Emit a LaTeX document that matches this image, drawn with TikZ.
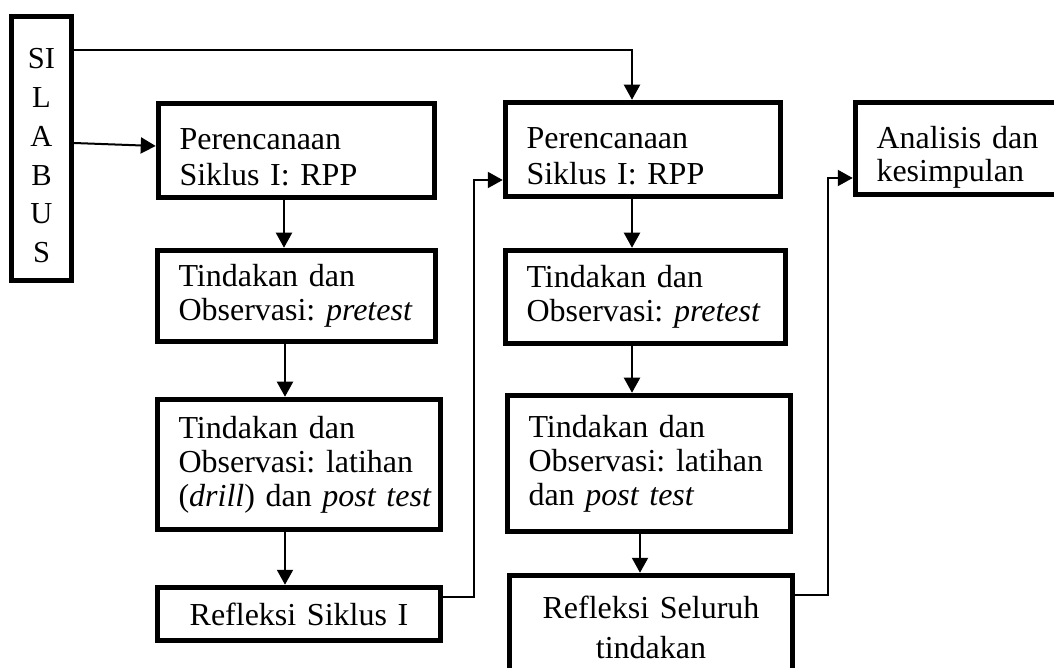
\documentclass[tikz,border=0pt]{standalone}
\usepackage{fontspec}
\setmainfont{Liberation Serif}
\usetikzlibrary{arrows.meta}
\frenchspacing
\begin{document}
\begin{tikzpicture}[x=1pt,y=1pt,
  box/.style={draw, line width=5.5pt, rectangle, inner xsep=21pt, inner ysep=0pt,
    align=left, font=\fontsize{32}{34}\selectfont},
  arr/.style={line width=2pt, -{Triangle[length=15pt,width=16pt]}},
  conn/.style={line width=2pt}]
\useasboundingbox (0,0) rectangle (1054,667);
% SILABUS
\node[draw, line width=5pt, minimum width=60pt, minimum height=264.5pt, inner sep=0pt,
  font=\fontsize{30.5}{38.8}\selectfont] (sil) at (41.5,518.25)
  {\raisebox{-15.5pt}[0pt][0pt]{\begin{tabular}{@{}c@{}}SI\\L\\A\\B\\U\\S\end{tabular}}};
% left column
\node[box, minimum width=276pt, text width=234pt, minimum height=94pt,
  font=\fontsize{32}{36}\selectfont] (l1) at (296.5,516.5)
  {\mbox{Perencanaan}\rule{0pt}{35pt}\\\mbox{Siklus I: RPP}};
\node[box, minimum width=278pt, text width=236pt, minimum height=91pt] (l2) at (296.5,371)
  {\mbox{Tindakan dan}\\\mbox{Observasi: \textit{pretest}}};
\node[box, minimum width=283pt, text width=241pt, minimum height=130pt] (l3) at (299,202.5)
  {\mbox{Tindakan dan}\\\mbox{Observasi: latihan}\\\mbox{(\textit{drill}) dan \textit{post test}}};
\node[box, align=center, minimum width=283pt, text width=241pt, minimum height=53pt] (l4) at (299,53)
  {Refleksi Siklus I};
% middle column
\node[box, minimum width=275pt, text width=233pt, minimum height=94pt,
  font=\fontsize{32}{36}\selectfont] (m1) at (643,517.5)
  {\mbox{Perencanaan}\rule{0pt}{35pt}\\\mbox{Siklus I: RPP}};
\node[box, minimum width=280pt, text width=238pt, minimum height=93pt] (m2) at (645.5,370)
  {\mbox{Tindakan dan}\\\mbox{Observasi: \textit{pretest}}};
\node[box, minimum width=283pt, text width=241pt, minimum height=136pt] (m3) at (649,203.5)
  {\mbox{Tindakan dan}\\\mbox{Observasi: latihan}\\\mbox{dan \textit{post test}}};
\node[box, align=center, minimum width=283pt, text width=241pt, minimum height=104.5pt,
  font=\fontsize{32}{40}\selectfont] (m4) at (651,39.25)
  {Refleksi Seluruh\\tindakan};
% right box
\node[box, minimum width=224.5pt, text width=182.5pt, minimum height=92pt,
  font=\fontsize{32}{33}\selectfont] (an) at (967.75,518.5)
  {\mbox{Analisis dan}\rule{0pt}{39pt}\\\mbox{kesimpulan}};
% connectors
\draw[arr] ([yshift=5.75pt]sil.east) -- ([yshift=4.5pt]l1.west);
\draw[arr] ([yshift=98.75pt]sil.east) -| ([xshift=-11pt]m1.north);
\draw[arr] ([xshift=-12.5pt]l1.south) -- ([xshift=-12.5pt]l1.south |- l2.north);
\draw[arr] ([xshift=-11.5pt]l2.south) -- ([xshift=-11.5pt]l2.south |- l3.north);
\draw[arr] ([xshift=-14pt]l3.south) -- ([xshift=-14pt]l3.south |- l4.north);
\draw[arr] ([yshift=17pt]l4.east) -- ++(30.5,0) |- ([yshift=-30.5pt]m1.west);
\draw[arr] ([xshift=-11pt]m1.south) -- ([xshift=-11pt]m1.south |- m2.north);
\draw[arr] ([xshift=-13.5pt]m2.south) -- ([xshift=-13.5pt]m2.south |- m3.north);
\draw[arr] ([xshift=-9pt]m3.south) -- ([xshift=-9pt]m3.south |- m4.north);
\draw[arr] ([yshift=32.75pt]m4.east) -- ++(32.5,0) |- ([yshift=-29.5pt]an.west);
\end{tikzpicture}
\end{document}
